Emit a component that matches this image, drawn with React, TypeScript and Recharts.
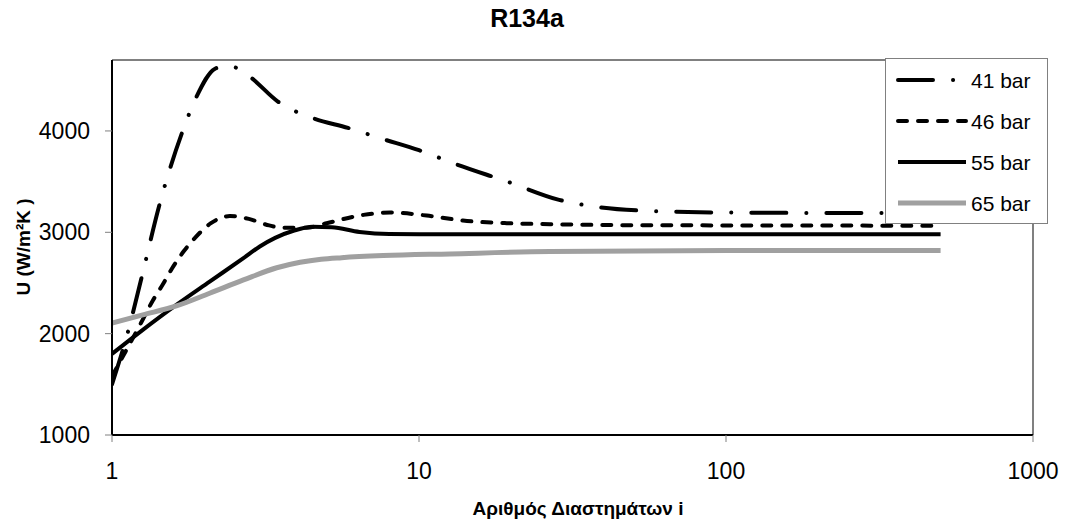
import React from 'react';
import { LineChart, Line, XAxis, YAxis, ReferenceLine, Legend } from 'recharts';

const TITLE = 'R134a';
const X_LABEL = 'Αριθμός Διαστημάτων i';
const Y_LABEL = 'U (W/m²K )';
const X_TICKS = [1, 10, 100, 1000];
const Y_TICKS = [1000, 2000, 3000, 4000];
const X_DOMAIN: [number, number] = [1, 1000];
const Y_DOMAIN: [number, number] = [1000, 4700];

// 41 bar
const i41 = [1, 1.13, 1.25, 1.43, 1.69, 1.88, 2.16, 2.35, 2.55, 2.84, 3.47, 4.48, 5.87, 7.63, 10, 13.1, 19.4, 28.6, 38, 57, 100, 300, 500];
const u41 = [1500, 2030, 2560, 3280, 3980, 4330, 4612, 4640, 4622, 4525, 4290, 4130, 4030, 3920, 3810, 3675, 3500, 3320, 3250, 3210, 3195, 3190, 3190];
// 46 bar
const i46 = [1, 1.24, 1.36, 1.46, 1.57, 1.71, 1.87, 2.1, 2.42, 2.79, 3.25, 3.6, 4.3, 5.0, 6.59, 8.05, 10.6, 13.9, 19.3, 26.7, 50, 100, 500];
const u46 = [1580, 2100, 2330, 2480, 2645, 2810, 2950, 3090, 3160, 3132, 3068, 3045, 3045, 3090, 3172, 3195, 3165, 3116, 3090, 3080, 3070, 3068, 3065];
// 55 bar
const i55 = [1, 1.26, 1.62, 2.08, 2.68, 3.03, 3.4, 3.9, 4.5, 5.2, 6.4, 8, 10, 100, 500];
const u55 = [1800, 2037, 2283, 2513, 2745, 2860, 2945, 3015, 3055, 3050, 3003, 2982, 2980, 2980, 2980];
// 65 bar
const i65 = [1, 1.26, 1.62, 2.08, 2.68, 3.44, 4.1, 4.8, 5.6, 7.65, 12.6, 26.7, 100, 500];
const u65 = [2105, 2185, 2273, 2399, 2530, 2650, 2705, 2735, 2750, 2770, 2787, 2810, 2820, 2820];

const NAMES = ['41 bar', '46 bar', '55 bar', '65 bar'];

const toPoints = (xs: number[], ys: number[]) => xs.map((x, k) => ({ x, y: ys[k] }));

const FONT = '"Liberation Sans", Arial, sans-serif';

const STYLES = [
  { stroke: '#000000', width: 4, dash: '35 20 0.1 20', cap: 'round' as const },
  { stroke: '#000000', width: 4, dash: '9 11', cap: 'round' as const },
  { stroke: '#000000', width: 4, dash: undefined, cap: 'butt' as const },
  { stroke: '#a0a0a0', width: 5, dash: undefined, cap: 'butt' as const },
];

const SERIES = [
  { name: NAMES[0], data: toPoints(i41, u41) },
  { name: NAMES[1], data: toPoints(i46, u46) },
  { name: NAMES[2], data: toPoints(i55, u55) },
  { name: NAMES[3], data: toPoints(i65, u65) },
];

const LegendBox = () => (
  <svg width={163} height={166} style={{ display: 'block' }}>
    <rect x={0.5} y={0.5} width={162} height={165} fill="#ffffff" stroke="#808080" strokeWidth={1} />
    {SERIES.map((s, k) => {
      const st = STYLES[k];
      const cy = 22 + k * 41;
      return (
        <g key={s.name}>
          <line
            x1={13}
            x2={81}
            y1={cy}
            y2={cy}
            stroke={st.stroke}
            strokeWidth={st.width}
            strokeDasharray={st.dash}
            strokeLinecap={st.cap}
          />
          <text x={86} y={cy} dominantBaseline="central" fontSize={21} fontFamily={FONT} fill="#000">
            {s.name}
          </text>
        </g>
      );
    })}
  </svg>
);

export default function App() {
  return (
    <div style={{ position: 'absolute', left: 0, top: 0, width: 1065, height: 525, background: '#fff', fontFamily: FONT }}>
      <div
        style={{
          position: 'absolute',
          left: 427,
          top: 1,
          width: 200,
          textAlign: 'center',
          fontWeight: 'bold',
          fontSize: 25,
          lineHeight: '35px',
          fontFamily: FONT,
          color: '#000',
        }}
      >
        {TITLE}
      </div>
      <LineChart width={1065} height={525} margin={{ top: 60, right: 32, bottom: 0, left: 0 }}>
        <XAxis
          dataKey="x"
          type="number"
          scale="log"
          domain={X_DOMAIN}
          ticks={X_TICKS}
          allowDataOverflow
          height={90}
          axisLine={{ stroke: '#000', strokeWidth: 2 }}
          tickLine={{ stroke: '#808080' }}
          tickSize={7}
          tickMargin={21}
          tick={{ fontSize: 23, fill: '#000', fontFamily: FONT }}
          label={() => (
            <text x={578} y={515} textAnchor="middle" fontSize={19} fontWeight="bold" fontFamily={FONT} fill="#000">
              {X_LABEL}
            </text>
          )}
        />
        <YAxis
          dataKey="y"
          type="number"
          domain={Y_DOMAIN}
          ticks={Y_TICKS}
          allowDataOverflow
          width={112}
          axisLine={{ stroke: '#000', strokeWidth: 2 }}
          tickLine={{ stroke: '#808080' }}
          tickSize={7}
          tickMargin={15}
          tick={{ fontSize: 23, fill: '#000', fontFamily: FONT }}
          label={() => (
            <text
              x={23}
              y={247}
              transform="rotate(-90 23 247)"
              textAnchor="middle"
              dominantBaseline="central"
              fontSize={19}
              fontWeight="bold"
              fontFamily={FONT}
              fill="#000"
            >
              {Y_LABEL}
            </text>
          )}
        />
        <ReferenceLine y={Y_DOMAIN[1]} stroke="#808080" strokeWidth={2} />
        <ReferenceLine x={X_DOMAIN[1]} stroke="#808080" strokeWidth={2} />
        {SERIES.map((s, k) => (
          <Line
            key={s.name}
            name={s.name}
            data={s.data}
            dataKey="y"
            type="monotone"
            stroke={STYLES[k].stroke}
            strokeWidth={STYLES[k].width}
            strokeDasharray={STYLES[k].dash}
            strokeLinecap={STYLES[k].cap}
            dot={false}
            activeDot={false}
            isAnimationActive={false}
          />
        ))}
        <Legend
          layout="horizontal"
          verticalAlign="middle"
          align="center"
          content={() => <LegendBox />}
          wrapperStyle={{ position: 'absolute', left: 885, top: 58, width: 163, height: 166, margin: 0, padding: 0 }}
        />
      </LineChart>
    </div>
  );
}
